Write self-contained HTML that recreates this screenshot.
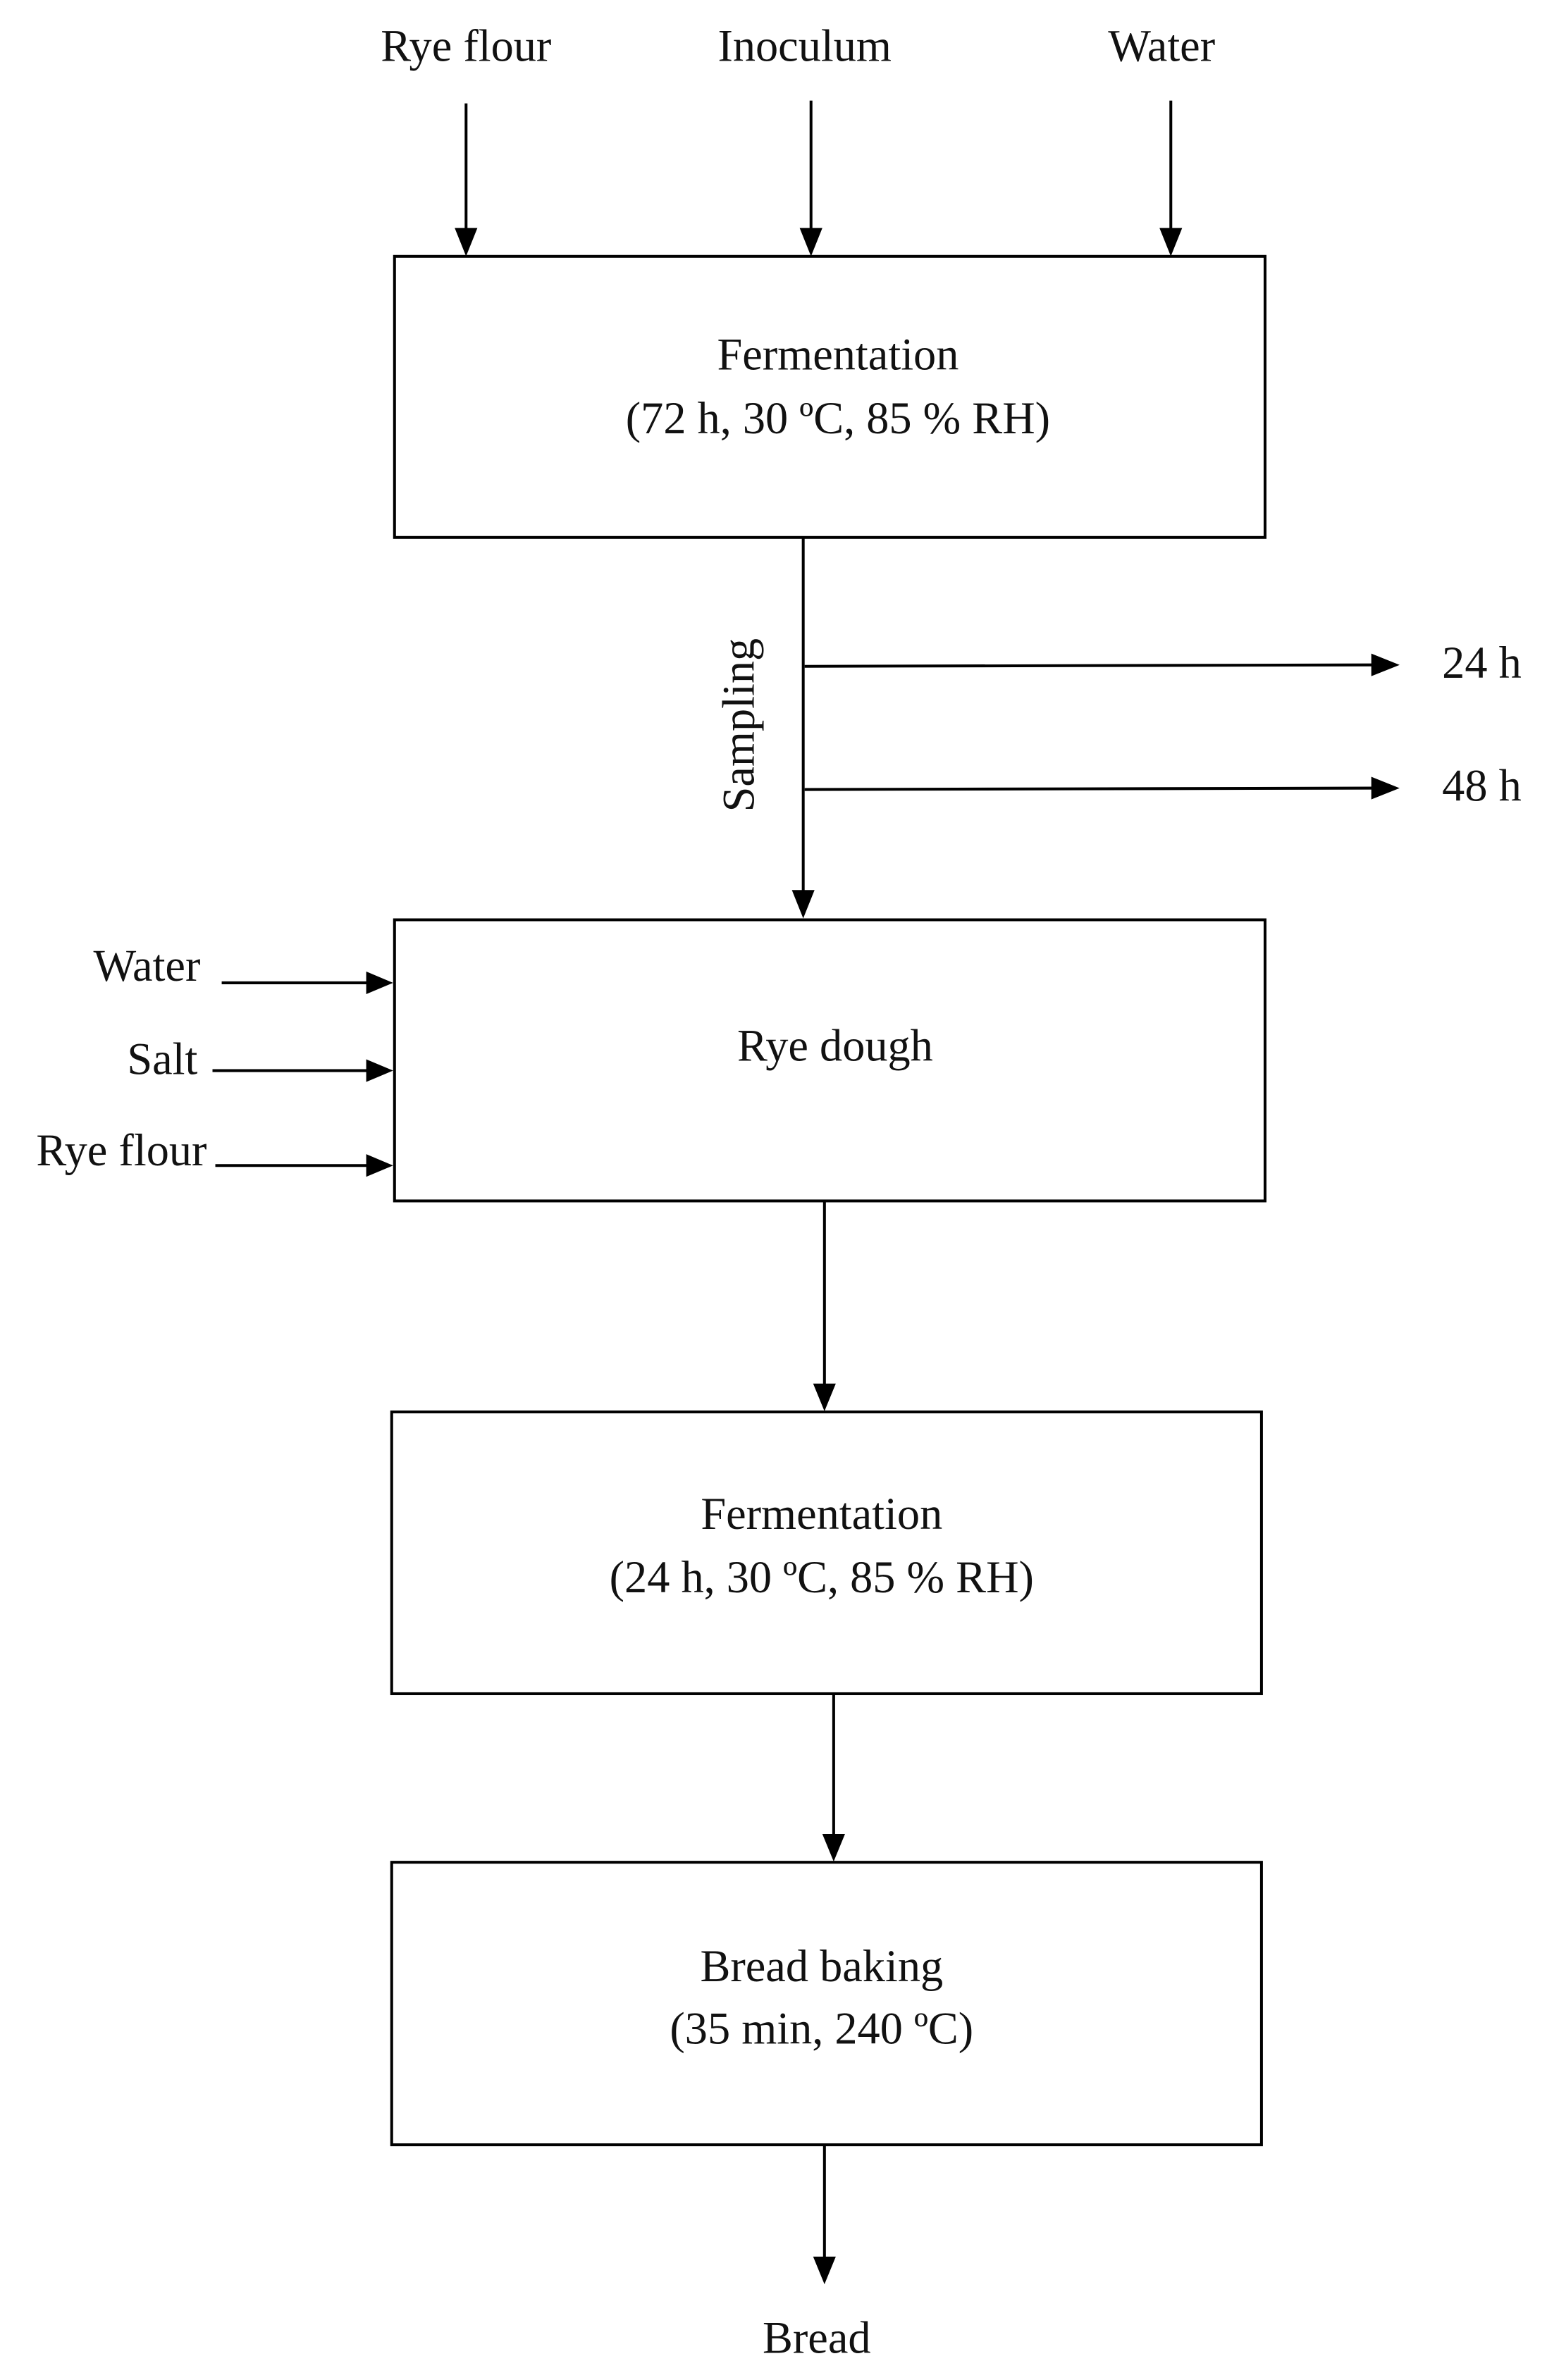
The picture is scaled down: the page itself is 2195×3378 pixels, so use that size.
<!DOCTYPE html>
<html><head><meta charset="utf-8"><style>
html,body{margin:0;padding:0;background:#fff;}
svg{display:block;}
text{font-family:"Liberation Serif",serif;font-size:64px;fill:#111;}
</style></head><body>
<svg width="2195" height="3378" viewBox="0 0 2195 3378" xmlns="http://www.w3.org/2000/svg">
<g transform="scale(1.005)">
<g stroke="#000" stroke-width="4" fill="none">
<rect x="557" y="362" width="1229" height="397"/>
<rect x="557" y="1299" width="1229" height="397"/>
<rect x="553" y="1994" width="1228" height="398"/>
<rect x="553" y="2630" width="1228" height="399"/>
<line x1="658" y1="146" x2="658" y2="330"/>
<line x1="1145" y1="142" x2="1145" y2="330"/>
<line x1="1653" y1="142" x2="1653" y2="330"/>
<line x1="1134" y1="759" x2="1134" y2="1265"/>
<line x1="1136" y1="941" x2="1945" y2="939"/>
<line x1="1136" y1="1115" x2="1945" y2="1113"/>
<line x1="313" y1="1388" x2="525" y2="1388"/>
<line x1="300" y1="1512" x2="525" y2="1512"/>
<line x1="304" y1="1646" x2="525" y2="1646"/>
<line x1="1164" y1="1696" x2="1164" y2="1962"/>
<line x1="1177" y1="2392" x2="1177" y2="2598"/>
<line x1="1164" y1="3029" x2="1164" y2="3195"/>
</g>
<g fill="#000">
<polygon points="642,322 674,322 658,362"/>
<polygon points="1129,322 1161,322 1145,362"/>
<polygon points="1637,322 1669,322 1653,362"/>
<polygon points="1118,1257 1150,1257 1134,1297"/>
<polygon points="1936,923 1976,939 1936,955"/>
<polygon points="1936,1097 1976,1113 1936,1129"/>
<polygon points="517,1372 555,1388 517,1404"/>
<polygon points="517,1496 555,1512 517,1528"/>
<polygon points="517,1630 555,1646 517,1662"/>
<polygon points="1148,1954 1180,1954 1164,1993"/>
<polygon points="1161,2590 1193,2590 1177,2629"/>
<polygon points="1148,3187 1180,3187 1164,3226"/>
</g>
<g text-anchor="middle">
<text x="658" y="86">Rye flour</text>
<text x="1136" y="86">Inoculum</text>
<text x="1640" y="86">Water</text>
<text x="1183" y="522">Fermentation</text>
<text x="1183" y="612">(72 h, 30 ºC, 85 % RH)</text>
<text x="1179" y="1498">Rye dough</text>
<text x="1160" y="2159">Fermentation</text>
<text x="1160" y="2249">(24 h, 30 ºC, 85 % RH)</text>
<text x="1160" y="2798">Bread baking</text>
<text x="1160" y="2886">(35 min, 240 ºC)</text>
<text x="1153" y="3323">Bread</text>
<text transform="translate(1064,1024) rotate(-90)">Sampling</text>
</g>
<g text-anchor="start">
<text x="2036" y="957">24 h</text>
<text x="2036" y="1131">48 h</text>
</g>
<g text-anchor="end">
<text x="283" y="1385">Water</text>
<text x="279" y="1517">Salt</text>
<text x="292" y="1646">Rye flour</text>
</g>
</g>
</svg>
</body></html>
